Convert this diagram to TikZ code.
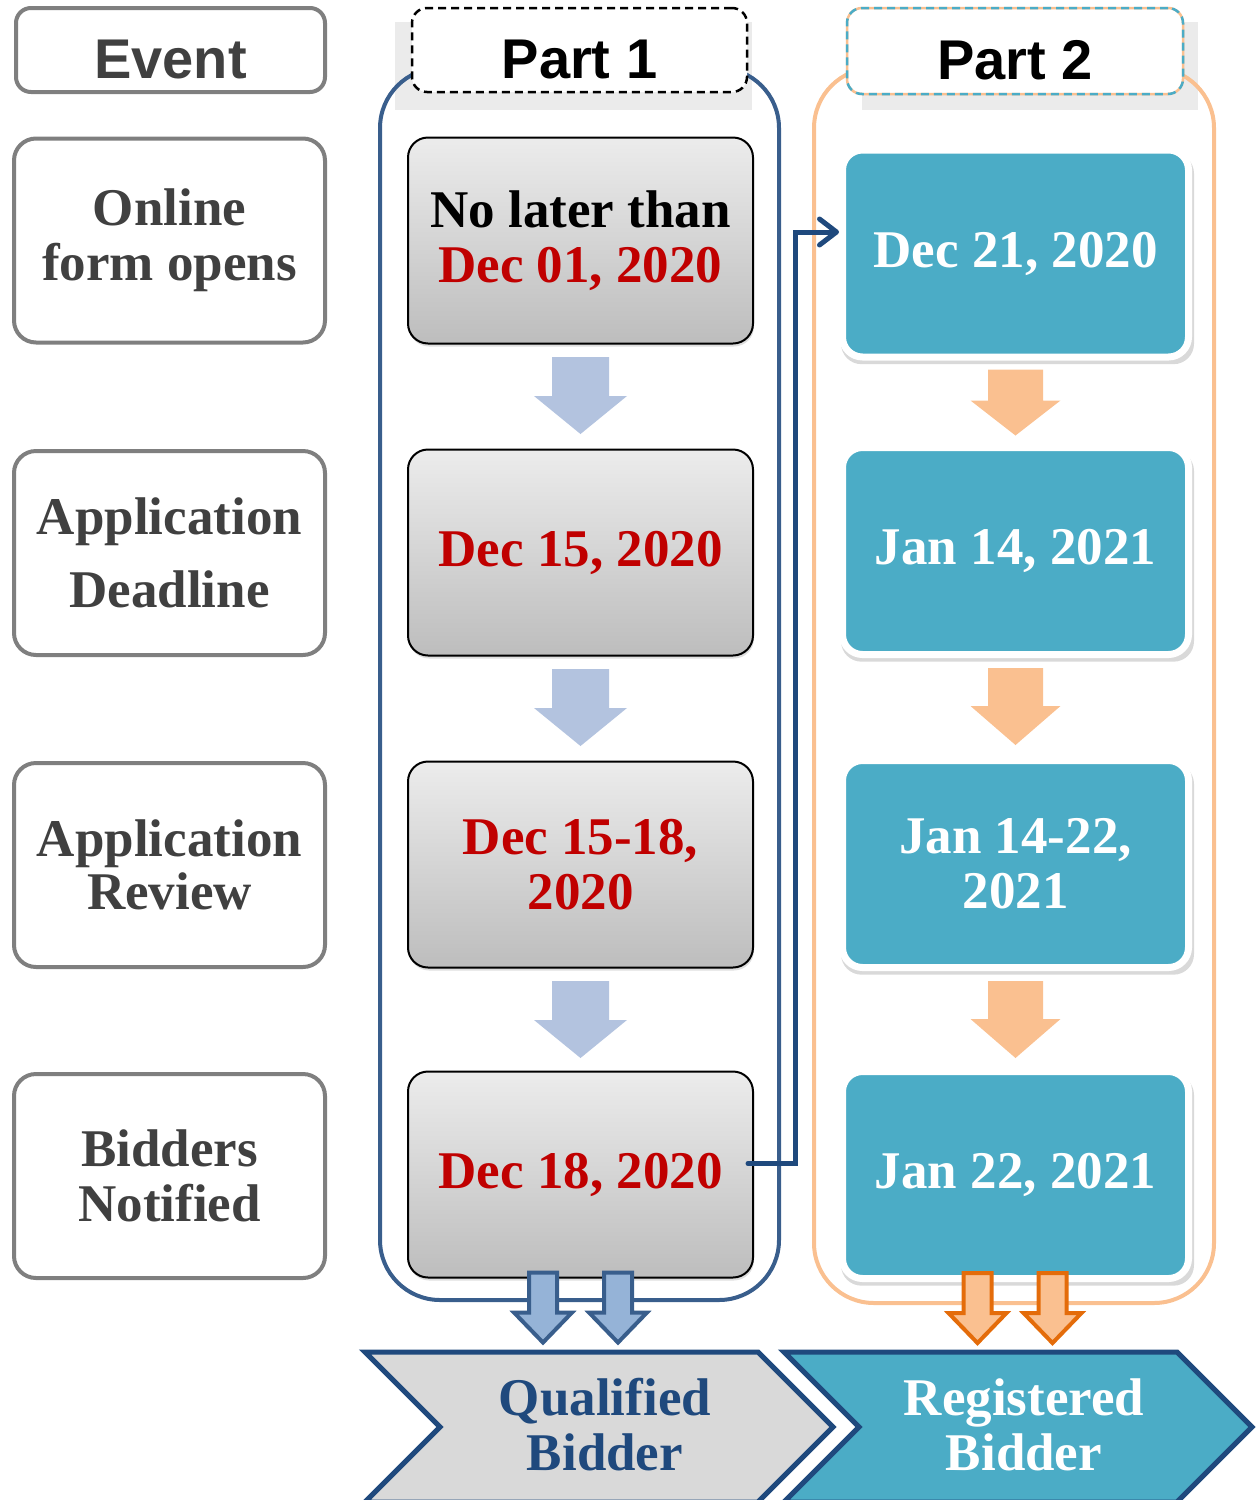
\documentclass[tikz,border=0pt]{standalone}
\usepackage{fontspec}
\setmainfont{Liberation Serif}
\newfontfamily\arialfont{Liberation Sans}
\usetikzlibrary{shadows,calc,arrows.meta}
\definecolor{evgray}{HTML}{7F7F7F}
\definecolor{txtgray}{HTML}{404040}
\definecolor{datered}{HTML}{C00000}
\definecolor{tealc}{HTML}{4BACC6}
\definecolor{blueC}{HTML}{395E8C}
\definecolor{orangeL}{HTML}{FAC090}
\definecolor{arrB}{HTML}{B3C3DF}
\definecolor{dblBfill}{HTML}{95B3D7}
\definecolor{dblOline}{HTML}{E46C0A}
\definecolor{navy}{HTML}{1F497D}
\definecolor{chevgray}{HTML}{D9D9D9}
\definecolor{gtop}{HTML}{ECECEC}
\definecolor{gbot}{HTML}{BDBDBD}
\definecolor{shadegray}{HTML}{EBEBEB}
\begin{document}
\begin{tikzpicture}[x=1pt,y=-1pt,
  serifbig/.style={font=\fontsize{53}{55}\selectfont\bfseries},
  evbox/.style={draw=evgray, line width=4pt, rounded corners=22pt, fill=white,
    minimum width=311pt, minimum height=204pt, inner sep=0pt, align=center,
    text=txtgray, serifbig},
  hdr/.style={fill=white, rounded corners=15pt, minimum width=335pt, minimum height=84pt,
    inner sep=0pt, text height=56pt, text depth=0pt,
    font=\arialfont\fontsize{56}{60}\selectfont\bfseries},
  datebox/.style={draw=black, line width=2pt, rounded corners=20pt, top color=gtop,
    bottom color=gbot, minimum width=345pt, minimum height=206pt, inner sep=0pt,
    align=center, text=datered, serifbig,
    drop shadow={opacity=0.25, shadow xshift=1pt, shadow yshift=-3pt}},
  tealbox/.style={fill=tealc, draw=white, line width=7pt, rounded corners=20pt,
    minimum width=346pt, minimum height=207pt, inner sep=0pt, align=center,
    text=white, serifbig,
    drop shadow={opacity=0.3, shadow scale=1.02, shadow xshift=2pt, shadow yshift=-5pt}},
  stepB/.style={fill=arrB},
  stepO/.style={fill=orangeL},
  dblB/.style={fill=dblBfill, draw=blueC, line width=4pt, line join=miter},
  dblO/.style={fill=orangeL, draw=dblOline, line width=4pt, line join=miter},
  chev/.style={draw=navy, line width=5pt, line join=miter},
  conn/.style={draw=navy, line width=5pt, line cap=round,
    -{Straight Barb[length=17pt,width=26pt,round]}},
  chevtext/.style={align=center, serifbig, inner sep=0pt}
]
\useasboundingbox (0,0) rectangle (1257,1500);

% header shades
\fill[shadegray] (395,22) rectangle (752,110);
\fill[shadegray] (862,22) rectangle (1198,110);

% containers
\draw[blueC, line width=4pt, rounded corners=60pt] (380,68) rectangle (779,1300);
\draw[orangeL, line width=4pt, rounded corners=60pt] (814,68) rectangle (1214,1303);

% headers
\node[evbox, minimum height=84pt, minimum width=309pt, rounded corners=15pt,
  text height=56pt, text depth=0pt,
  font=\arialfont\fontsize{56}{60}\selectfont\bfseries] (ev) at (170.5,50) {Event};
\node[hdr, draw=black, line width=2.5pt, dash pattern=on 8pt off 5pt] (p1) at (579.5,50) {Part 1};
\node[hdr, draw=orangeL, line width=2.5pt, minimum width=336pt, minimum height=86pt,
  postaction={draw=tealc, dash pattern=on 8pt off 5pt}] (p2) at (1015,51) {Part 2};

% event column
\node[evbox] (e1) at (169.5,240.5) {Online\\form opens};
\node[evbox, font=\fontsize{53}{73}\selectfont\bfseries] (e2) at (169.5,553) {Application\\Deadline};
\node[evbox, font=\fontsize{53}{53}\selectfont\bfseries] (e3) at (169.5,865) {Application\\Review};
\node[evbox] (e4) at (169.5,1176) {Bidders\\Notified};

% part 1 dates
\node[datebox] (g1) at (580.5,240.5) {\textcolor{black}{No later than}\\Dec 01, 2020};
\node[datebox] (g2) at (580.5,552.5) {Dec 15, 2020};
\node[datebox] (g3) at (580.5,864.5) {Dec 15-18,\\2020};
\node[datebox] (g4) at (580.5,1174.5) {Dec 18, 2020};

% part 2 dates
\node[tealbox] (t1) at (1015.5,253.5) {Dec 21, 2020};
\node[tealbox] (t2) at (1015.5,551) {Jan 14, 2021};
\node[tealbox] (t3) at (1015.5,864) {Jan 14-22,\\2021};
\node[tealbox] (t4) at (1015.5,1175) {Jan 22, 2021};

% step arrows part 1
\foreach \n in {g1,g2,g3}{
  \fill[stepB] ($(\n.south)+(-28.5,12.5)$) -- ++(57,0) -- ++(0,39) -- ++(18,0)
    -- ++(-46.5,38) -- ++(-46.5,-38) -- ++(18,0) -- cycle;
}
% step arrows part 2
\fill[stepO] ($(t1.south)+(-27.5,9)$) -- ++(55,0) -- ++(0,31) -- ++(17.5,0)
  -- ++(-45,35) -- ++(-45,-35) -- ++(17.5,0) -- cycle;
\foreach \n in {t2,t3}{
  \fill[stepO] ($(\n.south)+(-27.5,10)$) -- ++(55,0) -- ++(0,38) -- ++(17.5,0)
    -- ++(-45,39) -- ++(-45,-39) -- ++(17.5,0) -- cycle;
}

% connector
\draw[conn] ($(g4.east)+(-6,-11)$) -- ++(47,0) |- ($(t1.west)+(0,-21.5)$);

% double arrows
\foreach \dx in {-51.5,23.5}{
  \draw[dblB] ($(g4.south)+(\dx,-6)$) -- ++(28,0) -- ++(0,40) -- ++(15,0)
    -- ++(-29,30) -- ++(-29,-30) -- ++(15,0) -- cycle;
}
\foreach \dx in {-52,23}{
  \draw[dblO] ($(t4.south)+(\dx,-9)$) -- ++(28,0) -- ++(0,40) -- ++(15,0)
    -- ++(-29,30) -- ++(-29,-30) -- ++(15,0) -- cycle;
}

% chevrons
\filldraw[chev, fill=chevgray] (365,1352) -- (758,1352) -- (833,1427) -- (758,1502)
  -- (365,1502) -- (440,1427) -- cycle;
\filldraw[chev, fill=tealc] (784,1352) -- (1177,1352) -- (1252,1427) -- (1177,1502)
  -- (784,1502) -- (859,1427) -- cycle;
\node[chevtext, text=navy] (qb) at (605,1425) {Qualified\\Bidder};
\node[chevtext, text=white] (rb) at (1024,1425) {Registered\\Bidder};
\end{tikzpicture}
\end{document}
